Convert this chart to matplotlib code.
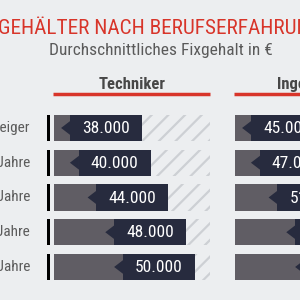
import matplotlib
matplotlib.use("Agg")
import matplotlib.pyplot as plt
from matplotlib.patches import Polygon

# data
rows = ["Berufseinsteiger", "1-2 Jahre", "3-5 Jahre", "6-10 Jahre", "über 10 Jahre"]
techniker = [38000, 40000, 44000, 48000, 50000]
ingenieure = [45000, 47000, 51000, 55000, 57000]
columns = ["Techniker", "Ingenieure"]

bg = "#eceef0"
red = "#d8352a"
gray_bar = "#605d64"
navy = "#272b3e"
hatch_col = "#cdd0d4"

plt.rcParams['font.family'] = ['Roboto Condensed', 'Archivo Narrow', 'DejaVu Sans']
plt.rcParams['hatch.linewidth'] = 1.6
plt.rcParams['hatch.color'] = hatch_col

fig = plt.figure(figsize=(3, 3), dpi=100, facecolor=bg)

W = 300.0
def px_axes(left, top, width, height):
    return fig.add_axes([left / W, 1 - (top + height) / W, width / W, height / W])

span = 35.3      # thousand EUR shown in one column
box_w = 16.3     # dark label box width
notch = 2.0
bh = 0.75

def draw_column(ax, vals, lo, first):
    ax.set_facecolor("none")
    n = len(vals)
    hi = lo + span
    for i, v in enumerate(vals):
        k = v / 1000
        # hatched remainder
        ax.barh(i, hi - k - box_w, left=k + box_w, height=bh, color="none", hatch="//",
                edgecolor=hatch_col, linewidth=0)
        # gray base bar
        ax.barh(i, k - lo, left=lo, height=bh, color=gray_bar, linewidth=0)
        # dark label box with notch
        ax.barh(i, box_w, left=k, height=bh, color=navy, linewidth=0)
        ax.add_patch(Polygon([(k + 0.05, i - 0.2), (k - notch, i),
                              (k + 0.05, i + 0.2)], closed=True,
                             facecolor=navy, edgecolor="none"))
        ax.text(k + box_w / 2, i + 0.02, f"{v:,}".replace(",", "."), color="white",
                fontsize=12.5, ha="center", va="center")
        if first:
            ax.barh(i, 0.55, left=lo - 1.55, height=bh, color="black",
                    linewidth=0, clip_on=False)
            ax.text(lo - 5.4, i, rows[i], color="#5b5b5b", fontsize=11,
                    ha="right", va="center", clip_on=False)
    ax.set_xlim(lo, hi)
    ax.set_ylim(n - 0.5, -0.5)
    ax.axis("off")

ax1 = px_axes(54, 110.6, 156, 173.75)
draw_column(ax1, techniker, 34.4, True)
ax2 = px_axes(235, 110.6, 156, 173.75)
draw_column(ax2, ingenieure, 41.4, False)

# column headers with red rule
for ax, name in zip((ax1, ax2), columns):
    ax.text(0.5, 1.15, name, transform=ax.transAxes, ha="center", va="center",
            fontsize=12, fontweight="bold", color="#474747")
    ax.plot([-0.005, 1], [1.095, 1.095], transform=ax.transAxes, color=red, lw=2.5,
            clip_on=False, solid_capstyle="butt")

fig.text(-0.008, 1 - 28.5 / W, "GEHÄLTER NACH BERUFSERFAHRUNG", color=red,
         fontsize=15.3, ha="left", va="center")
fig.text(161 / W, 1 - 51 / W, "Durchschnittliches Fixgehalt in €", color="#5a5a5a",
         fontsize=12.5, ha="center", va="center")

fig.savefig("out.png", dpi=100, facecolor=bg)
